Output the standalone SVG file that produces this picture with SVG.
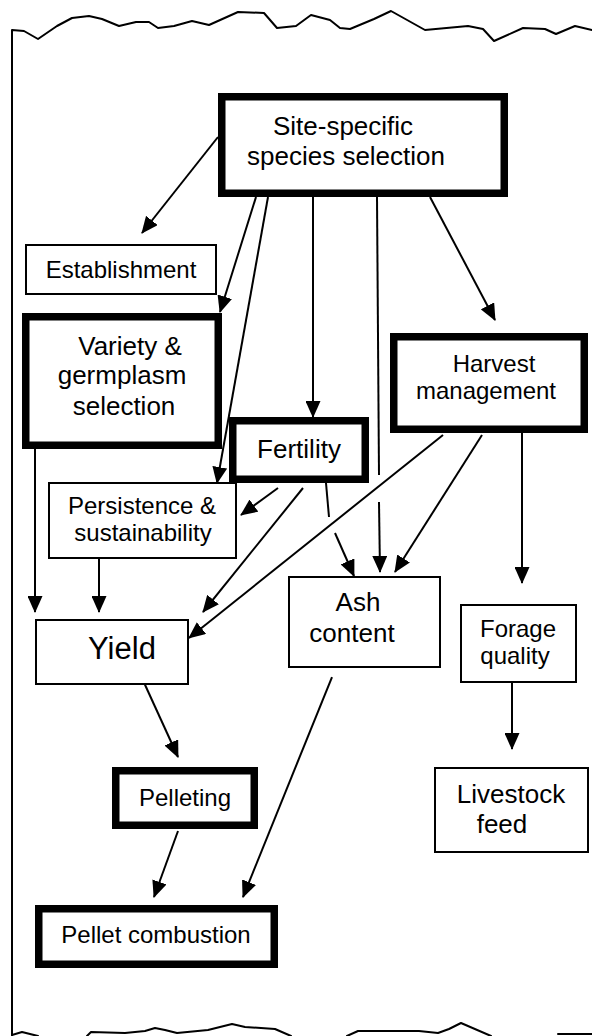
<svg xmlns="http://www.w3.org/2000/svg" width="592" height="1036" viewBox="0 0 592 1036">
<style>
.thick{fill:#fff;stroke:#000;stroke-width:7.5}
.thin{fill:#fff;stroke:#000;stroke-width:2}
.t{font-family:"Liberation Sans",Arial,sans-serif;fill:#000;text-anchor:middle}
.s24{font-size:24px}
.s26{font-size:26px}
.s31{font-size:31px}
.c{fill:none;stroke:#000;stroke-width:2}
.edge{fill:none;stroke:#000;stroke-width:2;stroke-linejoin:round;stroke-linecap:round}
</style>
<defs>
<marker id="ah" viewBox="0 0 17 15" markerWidth="17" markerHeight="15" markerUnits="userSpaceOnUse" refX="16" refY="7.5" orient="auto">
<path d="M0,0 L17,7.5 L0,15 z" fill="#000"/>
</marker>
</defs>
<rect width="592" height="1036" fill="#fff"/>
<g id="frame">
<path class="edge" d="M12,1036 L12,30 L24,31 L38,39 L57,26 L72,18 L89,16 L102,19 L119,26 L136,22 L149,22 L158,28 L174,26 L192,21 L209,25 L238,12 L264,13 L277,28 L296,26 L311,15 L330,20 L340,28 L350,29 L374,19 L391,11 L425,30 L468,26 L483,29 L494,41 L523,28 L545,29 L556,34 L575,26 L592,30"/>
<path class="edge" d="M12,1035 L22,1032 L38,1036"/>
<path class="edge" d="M87,1036 L91,1032 L125,1033 L145,1031 L155,1028 L165,1030 L177,1033 L208,1030 L232,1024 L245,1027 L275,1029 L291,1036"/>
<path class="edge" d="M347,1036 L358,1031 L419,1031 L438,1033 L449,1029 L461,1023 L491,1036"/>
<path class="edge" d="M558,1034 L592,1034"/>
</g>
<g id="connectors">
<line class="c" x1="218" y1="137" x2="142" y2="233" marker-end="url(#ah)"/>
<line class="c" x1="256" y1="197" x2="220" y2="312" marker-end="url(#ah)"/>
<line class="c" x1="268" y1="197" x2="217" y2="483" marker-end="url(#ah)"/>
<line class="c" x1="313" y1="197" x2="313" y2="417" marker-end="url(#ah)"/>
<line class="c" x1="377" y1="197" x2="379" y2="475"/>
<line class="c" x1="379" y1="502" x2="380" y2="572" marker-end="url(#ah)"/>
<line class="c" x1="430" y1="197" x2="495" y2="320" marker-end="url(#ah)"/>
<line class="c" x1="35" y1="449" x2="35" y2="612" marker-end="url(#ah)"/>
<line class="c" x1="99" y1="559" x2="99" y2="612" marker-end="url(#ah)"/>
<line class="c" x1="278" y1="488" x2="241" y2="515" marker-end="url(#ah)"/>
<line class="c" x1="303" y1="488" x2="203" y2="612" marker-end="url(#ah)"/>
<line class="c" x1="326" y1="483" x2="329" y2="517"/>
<line class="c" x1="335" y1="533" x2="354" y2="576" marker-end="url(#ah)"/>
<line class="c" x1="443" y1="435" x2="189" y2="638" marker-end="url(#ah)"/>
<line class="c" x1="482" y1="435" x2="395" y2="572" marker-end="url(#ah)"/>
<line class="c" x1="522" y1="433" x2="522" y2="583" marker-end="url(#ah)"/>
<line class="c" x1="512" y1="683" x2="512" y2="749" marker-end="url(#ah)"/>
<line class="c" x1="141" y1="676" x2="178" y2="757" marker-end="url(#ah)"/>
<line class="c" x1="178" y1="831" x2="154" y2="897" marker-end="url(#ah)"/>
<line class="c" x1="332" y1="677" x2="243" y2="897" marker-end="url(#ah)"/>
</g>
<g id="site">
<rect class="thick" x="221.75" y="96.75" width="282.5" height="96.5"/>
<text class="t s26" x="343" y="135">Site-specific</text>
<text class="t s26" x="346" y="165">species selection</text>
</g>
<g id="establishment">
<rect class="thin" x="26" y="245" width="190" height="49"/>
<text class="t s24" x="121" y="278">Establishment</text>
</g>
<g id="variety">
<rect class="thick" x="25.75" y="316.75" width="192.5" height="128.5"/>
<text class="t s26" x="130" y="355">Variety &amp;</text>
<text class="t s26" x="122" y="384">germplasm</text>
<text class="t s26" x="124" y="415">selection</text>
</g>
<g id="harvest">
<rect class="thick" x="393.75" y="336.75" width="190.5" height="92.5"/>
<text class="t s24" x="494" y="372">Harvest</text>
<text class="t s24" x="486" y="399">management</text>
</g>
<g id="fertility">
<rect class="thick" x="232.75" y="420.75" width="132.5" height="58.5"/>
<text class="t s26" x="299" y="458">Fertility</text>
</g>
<g id="persistence">
<rect class="thin" x="49" y="483" width="187" height="75"/>
<text class="t s24" x="142" y="514">Persistence &amp;</text>
<text class="t s24" x="143" y="541">sustainability</text>
</g>
<g id="ash">
<rect class="thin" x="289" y="577" width="151" height="90"/>
<text class="t s26" x="358" y="611">Ash</text>
<text class="t s26" x="352" y="642">content</text>
</g>
<g id="forage">
<rect class="thin" x="461" y="605" width="115" height="77"/>
<text class="t s24" x="518" y="637">Forage</text>
<text class="t s24" x="515" y="664">quality</text>
</g>
<g id="yield">
<rect class="thin" x="36" y="620" width="152" height="64"/>
<text class="t s31" x="122" y="659">Yield</text>
</g>
<g id="livestock">
<rect class="thin" x="435" y="768" width="153" height="84"/>
<text class="t s26" x="511" y="803">Livestock</text>
<text class="t s26" x="502" y="833">feed</text>
</g>
<g id="pelleting">
<rect class="thick" x="115.75" y="770.75" width="138.5" height="54.5"/>
<text class="t s24" x="185" y="806">Pelleting</text>
</g>
<g id="combustion">
<rect class="thick" x="38.75" y="908.75" width="235.5" height="55.5"/>
<text class="t s24" x="156" y="943">Pellet combustion</text>
</g>
</svg>
